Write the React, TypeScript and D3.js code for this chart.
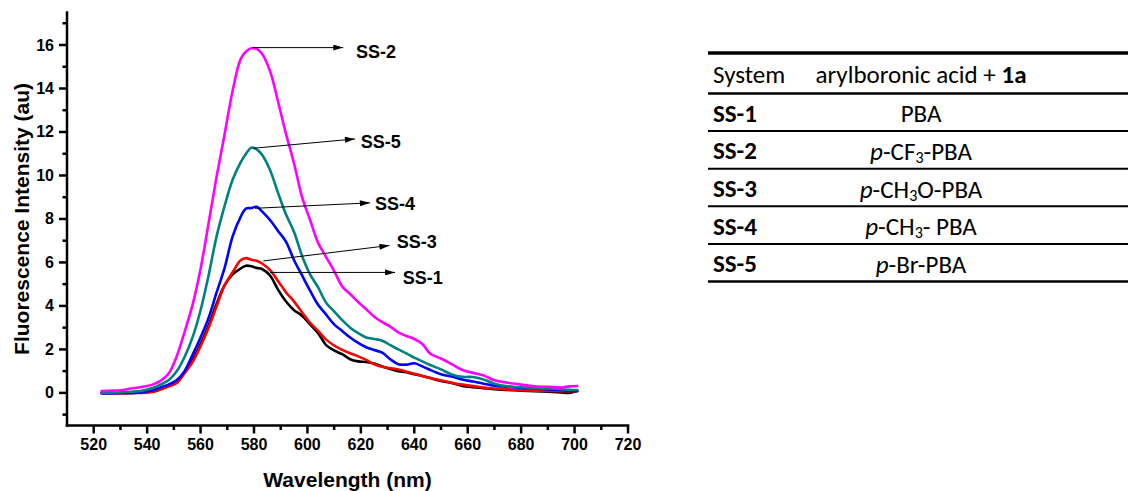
import React from 'react';
import * as d3 from 'd3';

// Emission wavelengths shared by all five spectra (nm)
const wavelengths = [
  523, 526, 530, 534, 538, 542, 545, 548, 551, 554, 557, 560, 563, 566, 569, 572, 575, 577, 579, 581,
  583, 586, 589, 592, 595, 598, 601, 604, 607, 610, 613, 616, 619, 622, 625, 628, 631, 634, 637, 640,
  643, 646, 650, 654, 658, 662, 666, 670, 675, 680, 685, 690, 695, 698, 701,
];

// Fluorescence intensity (au) for each system
const ss1 = [
  0.0, 0.0, -0.01, 0.0, 0.02, 0.06, 0.18, 0.32, 0.5, 0.95, 1.5, 2.25, 3.1, 4.1, 4.95, 5.45, 5.72, 5.85, 5.82, 5.75,
  5.7, 5.4, 4.75, 4.2, 3.8, 3.55, 3.15, 2.75, 2.2, 1.95, 1.78, 1.55, 1.45, 1.42, 1.35, 1.22, 1.1, 1.0, 0.95, 0.86,
  0.78, 0.68, 0.55, 0.45, 0.32, 0.26, 0.22, 0.17, 0.14, 0.1, 0.08, 0.05, 0.02, 0.0, 0.1,
];
const ss2 = [
  0.08, 0.1, 0.12, 0.2, 0.27, 0.38, 0.55, 0.88, 1.66, 2.8, 4.05, 5.7, 7.8, 9.94, 11.9, 13.9, 15.35, 15.7, 15.85, 15.82,
  15.6, 14.8, 13.4, 11.9, 10.55, 9.0, 7.95, 6.9, 6.25, 5.6, 4.9, 4.55, 4.18, 3.85, 3.5, 3.25, 3.05, 2.78, 2.62, 2.48,
  2.25, 1.8, 1.58, 1.32, 1.05, 0.92, 0.8, 0.58, 0.47, 0.38, 0.3, 0.28, 0.25, 0.3, 0.32,
];
const ss3 = [
  -0.02, -0.03, -0.02, -0.01, 0.0, 0.04, 0.15, 0.3, 0.45, 0.9, 1.42, 2.15, 3.0, 3.98, 4.95, 5.55, 6.1, 6.2, 6.12, 6.08,
  5.95, 5.65, 5.15, 4.62, 4.2, 3.7, 3.22, 2.85, 2.45, 2.18, 1.98, 1.82, 1.68, 1.52, 1.32, 1.2, 1.14, 1.08, 0.98, 0.88,
  0.78, 0.68, 0.57, 0.47, 0.38, 0.31, 0.25, 0.2, 0.16, 0.12, 0.1, 0.09, 0.08, 0.08, 0.09,
];
const ss4 = [
  -0.02, -0.03, 0.0, 0.0, 0.02, 0.12, 0.25, 0.38, 0.58, 1.0, 1.75, 2.55, 3.45, 4.62, 5.75, 7.2, 8.1, 8.48, 8.5, 8.56,
  8.35, 7.95, 7.45, 6.95, 6.1, 5.4, 4.7, 4.05, 3.6, 3.15, 2.85, 2.55, 2.3, 2.1, 1.97, 1.85, 1.55, 1.32, 1.3, 1.36,
  1.22, 1.05, 0.86, 0.75, 0.62, 0.52, 0.42, 0.33, 0.28, 0.23, 0.2, 0.16, 0.13, 0.1, 0.08,
];
const ss5 = [
  0.0, 0.0, 0.02, 0.05, 0.1, 0.22, 0.38, 0.58, 0.98, 1.65, 2.55, 3.8, 5.4, 7.2, 8.6, 9.8, 10.6, 11.0, 11.28, 11.2,
  10.95, 10.25, 9.2, 8.2, 7.4, 6.3, 5.45, 4.85, 4.15, 3.75, 3.35, 3.0, 2.75, 2.55, 2.48, 2.4, 2.2, 2.0, 1.82, 1.62,
  1.45, 1.28, 1.08, 0.85, 0.74, 0.73, 0.62, 0.42, 0.3, 0.26, 0.22, 0.2, 0.17, 0.14, 0.13,
];

// Series in drawing order
const seriesNames = ['SS-1', 'SS-3', 'SS-4', 'SS-5', 'SS-2'];
const seriesValues = [ss1, ss3, ss4, ss5, ss2];
const seriesColors = ['#000000', '#ff0000', '#0000ff', '#008080', '#ff00ff'];

// Call-out arrows: tail on the curve, head and label off to the right
const calloutNames = ['SS-2', 'SS-5', 'SS-4', 'SS-3', 'SS-1'];
const calloutFromNm = [579.6, 579.7, 580.4, 583.5, 586.0];
const calloutFromVal = [15.88, 11.25, 8.49, 6.07, 5.54];
const calloutToNm = [613.4, 617.8, 623.4, 630.7, 632.8];
const calloutToVal = [15.88, 11.68, 8.74, 6.78, 5.54];
const calloutLabelNm = [618.2, 620.0, 625.3, 633.4, 635.7];
const calloutLabelVal = [15.68, 11.55, 8.68, 6.96, 5.3];

// Axis ticks
const xMajorTicks = [520, 540, 560, 580, 600, 620, 640, 660, 680, 700, 720];
const xMinorTicks = [530, 550, 570, 590, 610, 630, 650, 670, 690, 710];
const yMajorTicks = [0, 2, 4, 6, 8, 10, 12, 14, 16];
const yMinorTicks = [-1, 1, 3, 5, 7, 9, 11, 13, 15, 17];

// Table contents
const tableHeader = ['System', 'arylboronic acid + ', '1a'];
const tableSystems = ['SS-1', 'SS-2', 'SS-3', 'SS-4', 'SS-5'];
type Seg = { t: string; italic?: boolean; sub?: boolean };
const tableAcids: Seg[][] = [
  [{ t: 'PBA' }],
  [{ t: 'p', italic: true }, { t: '-CF' }, { t: '3', sub: true }, { t: '-PBA' }],
  [{ t: 'p', italic: true }, { t: '-CH' }, { t: '3', sub: true }, { t: 'O-PBA' }],
  [{ t: 'p', italic: true }, { t: '-CH' }, { t: '3', sub: true }, { t: '- PBA' }],
  [{ t: 'p', italic: true }, { t: '-Br-PBA' }],
];

const W = 1129;
const H = 491;
const plot = { left: 67, right: 628, top: 12.4, bottom: 425.5 };
const axisFont = "'Liberation Sans', Arial, Helvetica, sans-serif";
const tableFont = "Calibri, Carlito, Lato, 'Open Sans', sans-serif";

export default function App() {
  const x = d3.scaleLinear().domain([510, 720]).range([plot.left, plot.right]);
  const y = d3.scaleLinear().domain([-1.5, 17.5]).range([plot.bottom, plot.top]);

  const line = d3
    .line<number>()
    .x((_, i) => x(wavelengths[i]))
    .y((v) => y(v))
    .curve(d3.curveCatmullRom.alpha(0.5));

  // Table geometry
  const tx0 = 708;
  const tx1 = 1128;
  const col1 = 713;
  const col2 = 921;
  const headerTop = 53;
  const headerBottom = 93.5;
  const rowH = 37.6;
  const rowLines = tableSystems.map((_, i) => headerBottom + rowH * (i + 1));
  const tableSize = 25;
  const subSize = 16;
  const subShift = 6;

  return (
    <svg
      width={W}
      height={H}
      viewBox={`0 0 ${W} ${H}`}
      style={{ position: 'absolute', left: 0, top: 0, background: '#fff' }}
    >
      <defs>
        <marker id="arrowHead" viewBox="0 0 10 6" refX="10" refY="3" markerWidth="11" markerHeight="6" markerUnits="userSpaceOnUse" orient="auto">
          <path d="M0,0 L10,3 L0,6 Z" fill="#000" />
        </marker>
      </defs>

      {/* spectra */}
      <g fill="none" strokeWidth={2.6} strokeLinejoin="round" strokeLinecap="round">
        {seriesValues.map((vals, i) => (
          <path key={seriesNames[i]} d={line(vals) || ''} stroke={seriesColors[i]} />
        ))}
      </g>

      {/* call-outs */}
      <g>
        {calloutNames.map((name, i) => (
          <g key={name}>
            <line
              x1={x(calloutFromNm[i])}
              y1={y(calloutFromVal[i])}
              x2={x(calloutToNm[i])}
              y2={y(calloutToVal[i])}
              stroke="#000"
              strokeWidth={1}
              markerEnd="url(#arrowHead)"
            />
            <text
              x={x(calloutLabelNm[i])}
              y={y(calloutLabelVal[i])}
              dominantBaseline="central"
              fontFamily={axisFont}
              fontWeight="bold"
              fontSize={18}
              fill="#000"
            >
              {name}
            </text>
          </g>
        ))}
      </g>

      {/* axes */}
      <g stroke="#000" strokeWidth={2.5} strokeLinecap="square">
        <line x1={plot.left} y1={plot.top} x2={plot.left} y2={plot.bottom} />
        <line x1={plot.left} y1={plot.bottom} x2={plot.right} y2={plot.bottom} />
        {xMajorTicks.map((t) => (
          <line key={'xM' + t} x1={x(t)} x2={x(t)} y1={plot.bottom} y2={plot.bottom + 8} strokeLinecap="butt" />
        ))}
        {xMinorTicks.map((t) => (
          <line key={'xm' + t} x1={x(t)} x2={x(t)} y1={plot.bottom} y2={plot.bottom + 4.5} strokeLinecap="butt" />
        ))}
        {yMajorTicks.map((t) => (
          <line key={'yM' + t} x1={plot.left - 8} x2={plot.left} y1={y(t)} y2={y(t)} strokeLinecap="butt" />
        ))}
        {yMinorTicks.map((t) => (
          <line key={'ym' + t} x1={plot.left - 4.5} x2={plot.left} y1={y(t)} y2={y(t)} strokeLinecap="butt" />
        ))}
      </g>
      <g fontFamily={axisFont} fontWeight="bold" fontSize={16} fill="#000">
        {xMajorTicks.map((t) => (
          <text key={'xl' + t} x={x(t)} y={plot.bottom + 24} textAnchor="middle">
            {t}
          </text>
        ))}
        {yMajorTicks.map((t) => (
          <text key={'yl' + t} x={plot.left - 13} y={y(t)} textAnchor="end" dominantBaseline="central">
            {t}
          </text>
        ))}
      </g>
      <text
        x={(plot.left + plot.right) / 2}
        y={487}
        textAnchor="middle"
        fontFamily={axisFont}
        fontWeight="bold"
        fontSize={21}
      >
        Wavelength (nm)
      </text>
      <text
        transform={`translate(21, ${(plot.top + plot.bottom) / 2}) rotate(-90)`}
        textAnchor="middle"
        dominantBaseline="central"
        fontFamily={axisFont}
        fontWeight="bold"
        fontSize={21}
      >
        Fluorescence Intensity (au)
      </text>

      {/* table */}
      <g stroke="#000">
        <line x1={tx0} x2={tx1} y1={headerTop} y2={headerTop} strokeWidth={3.5} />
        <line x1={tx0} x2={tx1} y1={headerBottom} y2={headerBottom} strokeWidth={2.5} />
        {rowLines.map((ly, i) => (
          <line
            key={'rl' + i}
            x1={tx0}
            x2={tx1}
            y1={ly}
            y2={ly}
            strokeWidth={i === rowLines.length - 1 ? 2.5 : 2}
          />
        ))}
      </g>
      <g fontFamily={tableFont} fontSize={tableSize} fill="#000">
        <text x={col1} y={(headerTop + headerBottom) / 2 + 1} dominantBaseline="central">
          {tableHeader[0]}
        </text>
        <text x={col2} y={(headerTop + headerBottom) / 2 + 1} dominantBaseline="central" textAnchor="middle">
          {tableHeader[1]}
          <tspan fontWeight="bold">{tableHeader[2]}</tspan>
        </text>
        {tableSystems.map((s, i) => {
          const cy = headerBottom + rowH * (i + 0.5) + 1;
          return (
            <g key={s}>
              <text x={col1} y={cy} dominantBaseline="central" fontWeight="bold">
                {s}
              </text>
              <text x={col2} y={cy} dominantBaseline="central" textAnchor="middle">
                {tableAcids[i].map((seg, j) => (
                  <tspan
                    key={j}
                    fontStyle={seg.italic ? 'italic' : undefined}
                    fontSize={seg.sub ? subSize : undefined}
                    dy={seg.sub ? subShift : j > 0 && tableAcids[i][j - 1].sub ? -subShift : undefined}
                  >
                    {seg.t}
                  </tspan>
                ))}
              </text>
            </g>
          );
        })}
      </g>
    </svg>
  );
}
